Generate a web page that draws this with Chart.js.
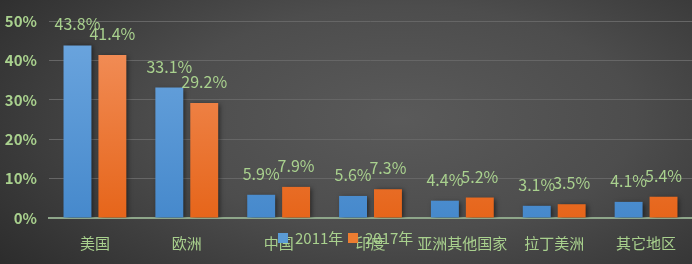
<!DOCTYPE html>
<html>
<head>
<meta charset="utf-8">
<script src="https://cdn.jsdelivr.net/npm/chart.js@4.4.1/dist/chart.umd.min.js"></script>
<style>
  html, body { margin: 0; padding: 0; }
  body {
    width: 692px; height: 264px; overflow: hidden;
    background: radial-gradient(ellipse 75% 95% at 58% 45%, #5a5a5a 0%, #4d4d4d 45%, #2a2a2a 100%);
  }
  #wrap { position: relative; width: 692px; height: 264px; }
  canvas { display: block; }
</style>
</head>
<body>
<div id="wrap"><canvas id="chart" width="692" height="264"></canvas></div>
<script>
const categories = ['美国', '欧洲', '中国', '印度', '亚洲其他国家', '拉丁美洲', '其它地区'];
const seriesNames = ['2011年', '2017年'];
const values2011 = [43.8, 33.1, 5.9, 5.6, 4.4, 3.1, 4.1];
const values2017 = [41.4, 29.2, 7.9, 7.3, 5.2, 3.5, 5.4];
const yTicks = [0, 10, 20, 30, 40, 50];

const GREEN = '#a9d18e';
const FONT = "'Noto Sans CJK SC', 'Noto Sans', sans-serif";

function vGrad(top, bottom) {
  return ctx => {
    const area = ctx.chart.chartArea;
    if (!area) return bottom;
    const g = ctx.chart.ctx.createLinearGradient(0, area.top, 0, area.bottom);
    g.addColorStop(0, top);
    g.addColorStop(1, bottom);
    return g;
  };
}

// bar shadows
const shadowPlugin = {
  id: 'shadow',
  beforeDatasetsDraw(chart) {
    const c = chart.ctx;
    c.save();
    c.shadowColor = 'rgba(0,0,0,0.55)';
    c.shadowBlur = 5;
    c.shadowOffsetX = 2;
    c.shadowOffsetY = 1;
  },
  afterDatasetsDraw(chart) {
    chart.ctx.restore();
  }
};

// value labels above bars
const valueLabels = {
  id: 'valueLabels',
  afterDatasetsDraw(chart) {
    const c = chart.ctx;
    c.save();
    c.font = '16px ' + FONT;
    c.fillStyle = GREEN;
    c.textAlign = 'center';
    c.textBaseline = 'alphabetic';
    chart.data.datasets.forEach((ds, i) => {
      chart.getDatasetMeta(i).data.forEach((bar, j) => {
        c.fillText(ds.data[j].toFixed(1) + '%', bar.x, bar.y - 15);
      });
    });
    c.restore();
  }
};

// legend drawn over the category labels, like the original
const overlayLegend = {
  id: 'overlayLegend',
  afterDraw(chart) {
    const c = chart.ctx;
    c.save();
    c.font = '15px ' + FONT;
    c.textBaseline = 'middle';
    const y = 238;
    let x = 278;
    chart.data.datasets.forEach(ds => {
      c.fillStyle = ds.legendColor;
      c.fillRect(x, y - 5, 10, 10);
      c.fillStyle = GREEN;
      c.fillText(ds.label, x + 17, y);
      x += 70;
    });
    c.restore();
  }
};

new Chart(document.getElementById('chart'), {
  type: 'bar',
  data: {
    labels: categories,
    datasets: [
      { label: seriesNames[0], data: values2011, backgroundColor: vGrad('#6ea7df', '#4689cc'), legendColor: '#5b9bd5' },
      { label: seriesNames[1], data: values2017, backgroundColor: vGrad('#f39360', '#e6651a'), legendColor: '#ed7d31' }
    ]
  },
  options: {
    responsive: false,
    animation: false,
    devicePixelRatio: 1,
    layout: { padding: { top: 19, right: 0, left: 0, bottom: 0 } },
    categoryPercentage: 0.76,
    barPercentage: 0.8,
    plugins: { legend: { display: false }, tooltip: { enabled: false } },
    scales: {
      x: {
        grid: { display: false },
        border: { color: '#8ea68a', width: 2 },
        ticks: { color: GREEN, font: { family: FONT, size: 15 }, padding: 8, maxRotation: 0, minRotation: 0, autoSkip: false },
        afterFit: s => { s.height = 46; }
      },
      y: {
        min: 0, max: 50,
        afterBuildTicks: s => { s.ticks = yTicks.map(v => ({ value: v })); },
        grid: { color: '#666666', lineWidth: 1, drawTicks: false },
        border: { display: false },
        ticks: { color: GREEN, font: { family: FONT, size: 15, weight: 'bold' }, padding: 12, callback: v => v + '%' },
        afterFit: s => { s.width = 49; }
      }
    }
  },
  plugins: [shadowPlugin, valueLabels, overlayLegend]
});
</script>
</body>
</html>
